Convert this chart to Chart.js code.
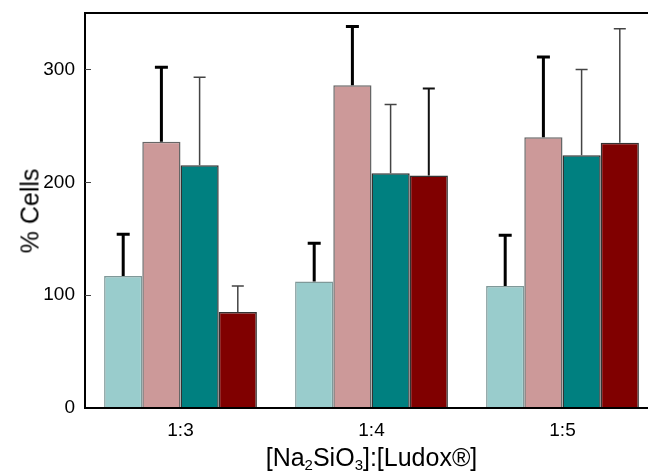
<!DOCTYPE html>
<html>
<head>
<meta charset="utf-8">
<script src="https://cdn.jsdelivr.net/npm/chart.js@4"></script>
<style>
  body { margin: 0; background: #fff; overflow: hidden; }
  #wrap { position: relative; width: 648px; height: 474px; overflow: hidden; }
  #chart { position: absolute; left: 0; top: 0; }
  .title { position: absolute; font-family: "Liberation Sans", Arial, sans-serif; font-size: 25px; color: #000; white-space: nowrap; line-height: 25px; }
  #ytitle { left: 30px; top: 211px; transform: translate(-50%, -50%) rotate(-90deg); }
  #xtitle { left: 85px; width: 573px; top: 445px; text-align: center; }
  #xtitle sub { font-size: 15px; vertical-align: -4px; line-height: 0; }
</style>
</head>
<body>
<div id="wrap">
  <canvas id="chart" width="662" height="474"></canvas>
  <div class="title" id="ytitle">% Cells</div>
  <div class="title" id="xtitle">[Na<sub>2</sub>SiO<sub>3</sub>]:[Ludox®]</div>
</div>
<script>
const ratios = ['1:3', '1:4', '1:5'];
const yTicks = [0, 100, 200, 300];

const lightTeal = [117, 112, 108];
const lightTealErr = [37, 34, 45];
const rose = [236, 286, 240];
const roseErr = [66, 52, 71];
const teal = [215, 208, 224];
const tealErr = [78, 61, 76];
const maroon = [85, 206, 235];
const maroonErr = [23, 77, 101];

function bars(label, data, errs, fill, edge, errColor, errWidth, cap) {
    return {
        label, data, errs,
        backgroundColor: fill,
        borderColor: edge,
        borderWidth: 1.5,
        errColor, errWidth, cap,
        categoryPercentage: 0.8,
        barPercentage: 1.0
    };
}

// error bars + frame + inside ticks
const extras = {
    id: 'extras',
    afterDatasetsDraw(chart) {
        const ctx = chart.ctx;
        const y = chart.scales.y;
        chart.data.datasets.forEach((ds, i) => {
            const meta = chart.getDatasetMeta(i);
            meta.data.forEach((bar, j) => {
                const top = y.getPixelForValue(ds.data[j] + ds.errs[j]);
                const pick = v => Array.isArray(v) ? v[j] : v;
                ctx.save();
                ctx.strokeStyle = pick(ds.errColor);
                ctx.lineWidth = pick(ds.errWidth);
                ctx.beginPath();
                ctx.moveTo(bar.x, bar.y);
                ctx.lineTo(bar.x, top);
                ctx.moveTo(bar.x - ds.cap / 2, top);
                ctx.lineTo(bar.x + ds.cap / 2, top);
                ctx.stroke();
                ctx.restore();
            });
        });
    },
    afterDraw(chart) {
        const ctx = chart.ctx;
        const a = chart.chartArea;
        const y = chart.scales.y;
        ctx.save();
        ctx.strokeStyle = '#000';
        ctx.lineWidth = 2;
        ctx.strokeRect(a.left, a.top, a.right - a.left, a.bottom - a.top);
        ctx.strokeStyle = '#444';
        ctx.lineWidth = 1;
        yTicks.slice(1).forEach(v => {
            const py = Math.round(y.getPixelForValue(v)) + 0.5;
            ctx.beginPath();
            ctx.moveTo(a.left, py);
            ctx.lineTo(a.left + 6, py);
            ctx.stroke();
        });
        ctx.restore();
    }
};

new Chart(document.getElementById('chart'), {
    type: 'bar',
    data: {
        labels: ratios,
        datasets: [
            bars('A', lightTeal, lightTealErr, '#99CCCC', '#7f9999', '#000', 3, 13),
            bars('B', rose, roseErr, '#CC9999', '#666', '#000', 3, 13),
            bars('C', teal, tealErr, '#008080', '#333', '#444', 1.5, 12),
            bars('D', maroon, maroonErr, '#800000', '#333', ['#444', '#111', '#444'], [1.5, 2, 1.5], 12)
        ]
    },
    options: {
        responsive: false,
        animation: false,
        devicePixelRatio: 1,
        layout: { padding: { top: 13, right: 4, left: 0, bottom: 0 } },
        plugins: { legend: { display: false }, tooltip: { enabled: false } },
        scales: {
            x: {
                grid: { display: false, drawTicks: false },
                border: { display: true, color: '#000', width: 2 },
                ticks: { color: '#000', padding: 11, font: { family: 'Liberation Sans', size: 19 } },
                afterFit(s) { s.height = 66; s.paddingLeft = 0; s.paddingRight = 0; }
            },
            y: {
                min: 0, max: 350,
                grid: { display: false, drawTicks: false },
                border: { display: true, color: '#000', width: 2 },
                ticks: {
                    color: '#000', padding: 10, stepSize: 100, includeBounds: false,
                    font: { family: 'Liberation Sans', size: 19 }
                },
                afterBuildTicks(s) { s.ticks = yTicks.map(v => ({ value: v })); },
                afterFit(s) { s.width = 85; s.paddingTop = 0; s.paddingBottom = 0; }
            }
        }
    },
    plugins: [extras]
});
</script>
</body>
</html>
